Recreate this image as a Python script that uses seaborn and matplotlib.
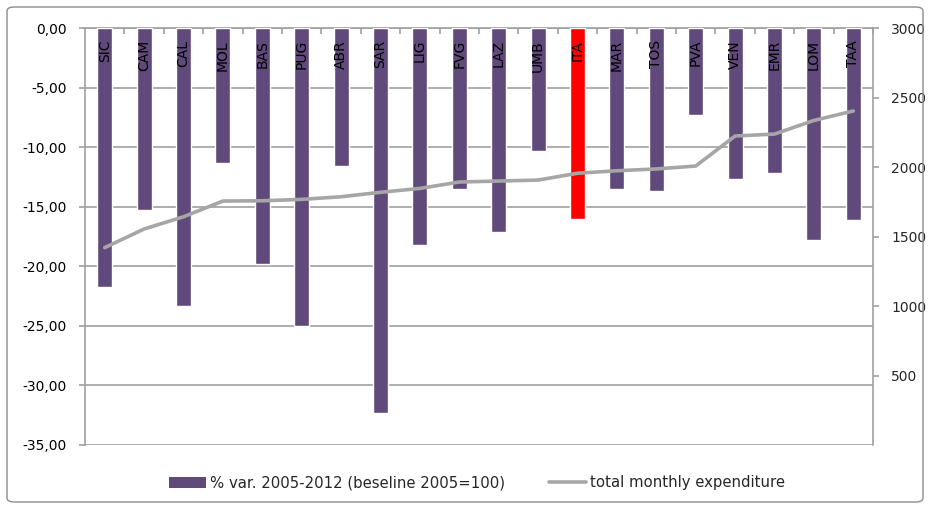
import numpy as np
import pandas as pd
import matplotlib
matplotlib.use("Agg")
import matplotlib.pyplot as plt
import seaborn as sns
from matplotlib.patches import Patch, FancyBboxPatch
from matplotlib.lines import Line2D
from matplotlib.ticker import FuncFormatter, FixedLocator

regions = ["SIC", "CAM", "CAL", "MOL", "BAS", "PUG", "ABR", "SAR", "LIG", "FVG",
           "LAZ", "UMB", "ITA", "MAR", "TOS", "PVA", "VEN", "EMR", "LOM", "TAA"]
pct_var = [-21.7, -15.3, -23.3, -11.3, -19.8, -25.0, -11.6, -32.3, -18.2, -13.5,
           -17.1, -10.3, -16.0, -13.5, -13.65, -7.3, -12.7, -12.2, -17.8, -16.15]
expenditure = [1420, 1554, 1642, 1755, 1757, 1767, 1786, 1818, 1846, 1892,
               1899, 1906, 1955, 1973, 1986, 2007, 2223, 2237, 2335, 2403]
left_ticks = [0, -5, -10, -15, -20, -25, -30, -35]
right_ticks = [500, 1000, 1500, 2000, 2500, 3000]
bar_label = "% var. 2005-2012 (beseline 2005=100)"
line_label = "total monthly expenditure"

purple = "#604A7B"
red = "#FF0000"
grey_line = "#A6A6A6"
grid_col = "#A0A0A0"
FS = 10

sns.set_style("white")
plt.rcParams["font.family"] = ["DejaVu Sans"]

fig = plt.figure(figsize=(9.3, 5.09), dpi=100)
ax = fig.add_axes([85/930, 1-445/509, (873-85)/930, (445-28)/509])

df = pd.DataFrame({"region": regions, "pct": pct_var, "exp": expenditure})
colors = {r: (red if r == "ITA" else purple) for r in regions}
sns.barplot(data=df, x="region", y="pct", hue="region", palette=colors,
            legend=False, width=0.38, saturation=1, ax=ax, zorder=3)

ax.set_ylim(-35, 0)
ax.set_xlim(-0.5, len(regions) - 0.5)
ax.yaxis.set_major_locator(FixedLocator(left_ticks))
ax.yaxis.set_major_formatter(FuncFormatter(lambda v, p: f"{v:.2f}".replace(".", ",")))
ax.grid(axis="y", color=grid_col, linewidth=1.2, zorder=0)
ax.set_axisbelow(True)
ax.set_xlabel("")
ax.set_ylabel("")
ax.xaxis.tick_top()
ax.set_xticks(np.arange(len(regions)) + 0.5)
ax.set_xticklabels([])
ax.tick_params(axis="x", direction="in", length=4, color=grid_col, width=1.2, top=True, bottom=False)
ax.tick_params(axis="y", direction="out", length=4, color=grid_col, width=1.2,
               labelsize=FS, pad=9, labelcolor="#000000")
for s in ["left", "top"]:
    ax.spines[s].set_color(grid_col)
    ax.spines[s].set_linewidth(1.2)
for s in ["right", "bottom"]:
    ax.spines[s].set_visible(False)

for i, r in enumerate(regions):
    ax.text(i, -1.0, r, rotation=90, ha="center", va="top", fontsize=FS,
            color="black", zorder=5)

ax2 = ax.twinx()
sns.lineplot(x=np.arange(len(regions)), y=df["exp"], color=grey_line, linewidth=2.6,
             ax=ax2, zorder=4)
ax2.set_ylim(0, 3000)
ax2.yaxis.set_major_locator(FixedLocator(right_ticks))
ax2.set_ylabel("")
ax2.tick_params(axis="y", direction="out", length=4, color=grid_col, width=1.2,
                labelsize=FS, pad=9)
for s in ["left", "top", "bottom"]:
    ax2.spines[s].set_visible(False)
ax2.spines["right"].set_color(grid_col)
ax2.spines["right"].set_linewidth(1.2)
ax2.grid(False)

handles = [Patch(facecolor=purple, edgecolor="none"),
           Line2D([0], [0], color=grey_line, linewidth=2.6)]
fig.legend(handles, [bar_label, line_label], loc="center", bbox_to_anchor=(477/930, 1-483/509),
           ncol=2, frameon=False, fontsize=10.7, handlelength=2.5, handletextpad=0.3,
           columnspacing=2.9)

border = FancyBboxPatch((7/930, 7/509), 916/930, 495/509, boxstyle="round,pad=0,rounding_size=0.008",
                        transform=fig.transFigure, facecolor="none", edgecolor="#8C8C8C",
                        linewidth=1.0)
fig.patches.append(border)

fig.savefig("out.png", dpi=100)
